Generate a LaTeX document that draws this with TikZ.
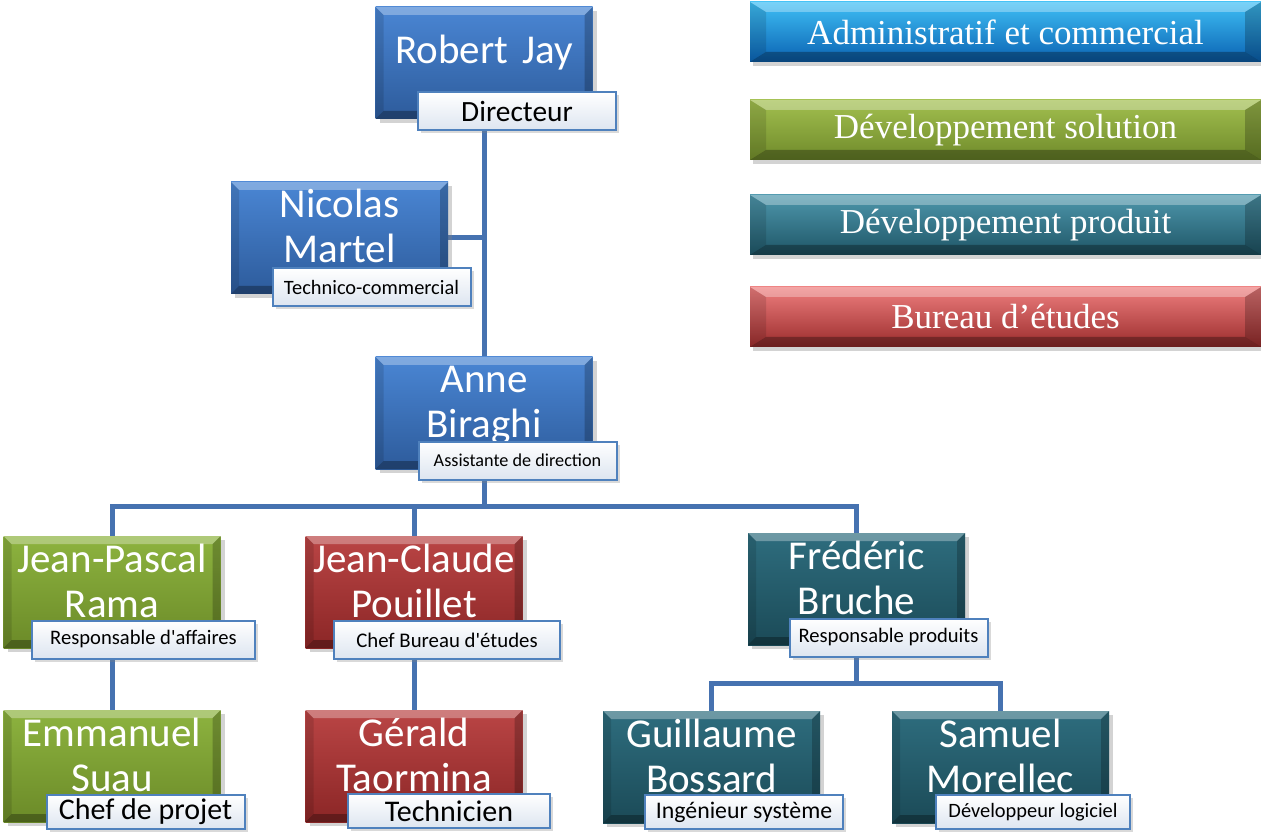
\documentclass[tikz,border=0pt]{standalone}
\usepackage{fontspec}
\setsansfont{Carlito}
\newfontfamily\legendfont{Liberation Serif}
\usepackage{tikz}
\usetikzlibrary{shadows,backgrounds}

\definecolor{bluet}{HTML}{4A86D4}
\definecolor{blueb}{HTML}{2D5B9B}
\definecolor{greent}{HTML}{8DB33F}
\definecolor{greenb}{HTML}{6B8A28}
\definecolor{redt}{HTML}{BA4545}
\definecolor{redb}{HTML}{8B2626}
\definecolor{tealt}{HTML}{2E6D7E}
\definecolor{tealb}{HTML}{1B4A57}
\definecolor{linkc}{HTML}{4672B0}
\definecolor{rolec}{HTML}{4F81BD}
\definecolor{roleb}{HTML}{DDE5F0}
\definecolor{lbluet}{HTML}{3FBFF5}
\definecolor{lblueb}{HTML}{0A62B2}
\definecolor{lgreent}{HTML}{A2BF4F}
\definecolor{lgreenb}{HTML}{6F8A2A}
\definecolor{ltealt}{HTML}{4E97AC}
\definecolor{ltealb}{HTML}{1E5566}
\definecolor{lredt}{HTML}{EE7E7E}
\definecolor{lredb}{HTML}{9A2C2C}

\newcommand\bevel[2]{%
  \coordinate (pnw) at (path picture bounding box.north west);
  \coordinate (pne) at (path picture bounding box.north east);
  \coordinate (psw) at (path picture bounding box.south west);
  \coordinate (pse) at (path picture bounding box.south east);
  \fill[white,opacity=.3] (pnw) -- (pne) -- ([shift={(-#1,-#2)}]pne) -- ([shift={(#1,-#2)}]pnw) -- cycle;
  \fill[black,opacity=.3] (psw) -- (pse) -- ([shift={(-#1,#2)}]pse) -- ([shift={(#1,#2)}]psw) -- cycle;
  \fill[black,opacity=.12] (pnw) -- (psw) -- ([shift={(#1,#2)}]psw) -- ([shift={(#1,-#2)}]pnw) -- cycle;
  \fill[black,opacity=.22] (pne) -- (pse) -- ([shift={(-#1,#2)}]pse) -- ([shift={(-#1,-#2)}]pne) -- cycle;
}

\begin{document}
\begin{tikzpicture}[x=0.5pt,y=-0.5pt,
  person/.style 2 args={top color=#1, bottom color=#2, minimum width=108.5pt, minimum height=56pt,
    inner sep=0pt, text width=108.5pt, align=center, text=white,
    font=\sffamily\fontsize{20.5}{22.5}\selectfont, text height=18pt, text depth=38pt,
    drop shadow={opacity=.35, shadow xshift=2pt, shadow yshift=-2pt}, path picture={\bevel{4pt}{4pt}}},
  role/.style={draw=rolec, line width=1pt, top color=white, bottom color=roleb, text=black,
    minimum width=99pt, minimum height=19pt, inner sep=0pt,
    drop shadow={opacity=.3, shadow xshift=1.5pt, shadow yshift=-1.5pt}},
  rolefont/.style={font=\sffamily\fontsize{#1}{#1}\selectfont},
  legend/.style 2 args={top color=#1, bottom color=#2, minimum width=255.5pt, minimum height=30pt,
    inner sep=0pt, text=white, font=\legendfont\fontsize{17.5}{20}\selectfont,
    drop shadow={opacity=.35, shadow xshift=1.5pt, shadow yshift=-2pt}, path picture={\bevel{8pt}{5pt}}},
  link/.style={draw=linkc, line width=2.5pt}]
\useasboundingbox (0,0) rectangle (1261,833);

\node[person={bluet}{blueb}, text height=28.5pt, text depth=27.5pt] (rj) at (484,63) {Robert Jay};
\node[role, rolefont=14.7] (rjr) at (517,111.5) {Directeur};
\node[person={bluet}{blueb}] (nm) at (339.5,238) {Nicolas\\Martel};
\node[role, rolefont=10.2] (nmr) at (371.5,287) {Technico-commercial};
\node[person={bluet}{blueb}] (ab) at (484,413) {Anne\\Biraghi};
\node[role, rolefont=9.1] (abr) at (517.5,460.5) {Assistante de direction};

\node[person={greent}{greenb}] (jp) at (112,592) {Jean-Pascal\\Rama};
\node[role, rolefont=10.3, minimum width=111.5pt] (jpr) at (143.5,639.5) {Responsable d\textquotesingle affaires};
\node[person={redt}{redb}] (jc) at (414,592) {Jean-Claude\\Pouillet};
\node[role, rolefont=10.4, minimum width=113pt] (jcr) at (447,640) {Chef Bureau d\textquotesingle études};
\node[person={tealt}{tealb}] (fb) at (856.5,589) {Frédéric\\Bruche};
\node[role, rolefont=10.3] (fbr) at (888.5,637.5) {Responsable produits};

\node[person={greent}{greenb}] (em) at (112,766) {Emmanuel\\Suau};
\node[role, rolefont=15, minimum height=17pt] (emr) at (145.5,812) {Chef de projet};
\node[person={redt}{redb}] (gt) at (414,766) {Gérald\\Taormina};
\node[role, rolefont=15, minimum width=101pt, minimum height=17pt] (gtr) at (449,811) {Technicien};
\node[person={tealt}{tealb}] (gb) at (711.5,767) {Guillaume\\Bossard};
\node[role, rolefont=11.9, minimum height=17pt] (gbr) at (744,812) {Ingénieur système};
\node[person={tealt}{tealb}] (sm) at (1000.5,767) {Samuel\\Morellec};
\node[role, rolefont=10.2, minimum width=97pt, minimum height=17pt] (smr) at (1033,812) {Développeur logiciel};

\node[legend={lbluet}{lblueb}] (leg1) at (1005.5,32) {Administratif et commercial};
\node[legend={lgreent}{lgreenb}] (leg2) at (1005.5,130) {Développement solution};
\node[legend={ltealt}{ltealb}] (leg3) at (1005.5,225) {Développement produit};
\node[legend={lredt}{lredb}] (leg4) at (1005.5,317) {Bureau d’études};

\coordinate (bus) at (484,506);
\coordinate (fbus) at (856.5,683);
\begin{scope}[on background layer]
\draw[link] (rj) -- (ab);
\draw[link] (nm.east) -- (nm.east -| rj.south);
\draw[link] (ab) -- (bus);
\foreach \n in {jp,jc,fb} \draw[link] (bus) -| (\n);
\draw[link] (jp) -- (em);
\draw[link] (jc) -- (gt);
\draw[link] (fb) -- (fbus);
\foreach \n in {gb,sm} \draw[link] (fbus) -| (\n);
\end{scope}
\end{tikzpicture}
\end{document}
